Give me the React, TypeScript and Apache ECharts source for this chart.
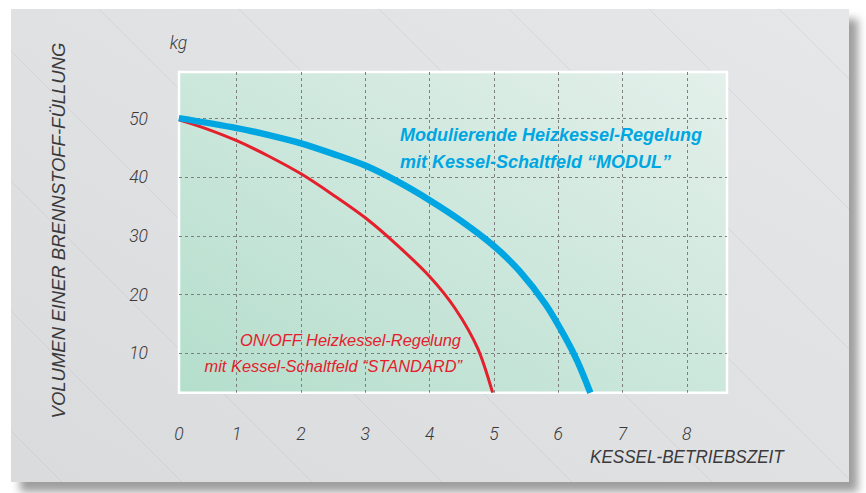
import React, { useEffect, useRef } from "react";
import * as echarts from "echarts";

// ---- data ----
const xTickValues = [0, 1, 2, 3, 4, 5, 6, 7, 8];
const yTickValues = [10, 20, 30, 40, 50];
const redX = [0.1, 0.5, 1.0, 1.5, 2.0, 2.5, 3.0, 3.5, 4.0, 4.4, 4.75, 4.98];
const redY = [49.8, 48.4, 46.25, 43.6, 40.6, 37.0, 33.1, 28.4, 23.1, 17.6, 10.8, 3.28];
const blueX = [0.1, 1.0, 1.5, 2.0, 2.5, 3.0, 3.5, 4.0, 4.5, 5.0, 5.4, 5.8, 6.1, 6.3, 6.5];
const blueY = [50.1, 48.4, 47.2, 45.8, 44.0, 42.0, 39.3, 36.1, 32.5, 28.3, 24.0, 18.4, 12.9, 8.6, 3.28];
const yAxisTitle = "VOLUMEN EINER BRENNSTOFF-FÜLLUNG";
const xAxisTitle = "KESSEL-BETRIEBSZEIT";
const unitLabel = "kg";
const blueLabel = ["Modulierende Heizkessel-Regelung", "mit Kessel-Schaltfeld \u201CMODUL\u201D"];
const redLabel = ["ON/OFF Heizkessel-Regelung", "mit Kessel-Schaltfeld \u201CSTANDARD\u201D"];

const X_MIN = 0.103;
const X_MAX = 8.625;
const Y_MIN = 3.28;
const Y_MAX = 57.96;

const TEXT = "#3a3a3c";
const FONT = "Liberation Sans, Arial, sans-serif";
const LIGHT = "Roboto, Liberation Sans, sans-serif";

function diagLines() {
  const L = 11, T = 9, R = 849, B = 482;
  const out: any[] = [];
  const offs = [-420, -300, -170, -40, 90, 230, 370, 500, 640, 770];
  for (const c of offs) {
    let x1 = T + c, y1 = T;
    if (x1 < L) { y1 = L - c; x1 = L; }
    let x2 = B + c, y2 = B;
    if (x2 > R) { y2 = R - c; x2 = R; }
    if (y1 >= B || x1 >= R) continue;
    out.push({
      type: "line",
      z: -90,
      silent: true,
      shape: { x1, y1, x2, y2 },
      style: { stroke: "rgba(185,186,190,0.3)", lineWidth: 1 },
    });
  }
  return out;
}

const tickFont = {
  color: TEXT,
  fontSize: 17.5,
  fontStyle: "italic",
  fontWeight: 300,
  fontFamily: LIGHT,
};

export default function App() {
  const ref = useRef<HTMLDivElement>(null);
  useEffect(() => {
    if (!ref.current) return;
    const chart = echarts.init(ref.current, undefined, { renderer: "svg" });
    const red = redX.map((x, i) => [x, redY[i]]);
    const blue = blueX.map((x, i) => [x, blueY[i]]);
    const gridLine = { show: true, showMinLine: false, showMaxLine: false, lineStyle: { color: "#7d7f80", type: [3, 3], width: 1 } };
    chart.setOption({
      animation: false,
      backgroundColor: "#ffffff",
      grid: {
        left: 179,
        top: 72,
        right: 139,
        bottom: 100.3,
        show: true,
        borderColor: "#ffffff",
        borderWidth: 2.5,
        backgroundColor: new echarts.graphic.LinearGradient(0, 1, 1, 0, [
          { offset: 0, color: "#b4decc" },
          { offset: 1, color: "#e4f0eb" },
        ]),
      },
      xAxis: {
        type: "value",
        min: X_MIN,
        max: X_MAX,
        minInterval: 1,
        maxInterval: 1,
        axisLine: { show: false },
        axisTick: { show: false },
        splitLine: gridLine,
        axisLabel: {
          margin: 32,
          showMaxLabel: false,
          ...tickFont,
          formatter: (v: number) => {
            const r = Math.round(v);
            return xTickValues.includes(r) && Math.abs(v - r) < 0.2 ? String(r) : "";
          },
        },
      },
      yAxis: {
        type: "value",
        min: Y_MIN,
        max: Y_MAX,
        minInterval: 10,
        maxInterval: 10,
        axisLine: { show: false },
        axisTick: { show: false },
        splitLine: gridLine,
        axisLabel: {
          margin: 31,
          showMinLabel: false,
          showMaxLabel: false,
          ...tickFont,
          formatter: (v: number) => (yTickValues.includes(Math.round(v)) && Math.abs(v - Math.round(v)) < 0.01 ? String(Math.round(v)) : ""),
        },
      },
      series: [
        {
          type: "line",
          data: red,
          smooth: 0.3,
          showSymbol: false,
          lineStyle: { color: "#e5202c", width: 3 },
          z: 3,
        },
        {
          type: "line",
          data: blue,
          smooth: 0.3,
          showSymbol: false,
          lineStyle: { color: "#00a6e2", width: 6.5 },
          z: 4,
        },
      ],
      graphic: [
        {
          type: "rect",
          z: -100,
          silent: true,
          shape: { x: 11, y: 9, width: 838, height: 473 },
          style: {
            fill: new echarts.graphic.LinearGradient(0, 1, 1, 0, [
              { offset: 0, color: "#dadbdd" },
              { offset: 1, color: "#e6e7e9" },
            ]),
            shadowBlur: 8,
            shadowOffsetX: 9,
            shadowOffsetY: 10,
            shadowColor: "rgba(0,0,0,0.38)",
          },
        },
        ...diagLines(),
        {
          type: "text",
          z: 10,
          x: 178.5,
          y: 43,
          style: {
            text: unitLabel,
            fill: TEXT,
            font: `italic 300 17.5px ${LIGHT}`,
            textAlign: "center",
            textVerticalAlign: "middle",
          },
        },
        {
          type: "text",
          z: 10,
          x: 58,
          y: 230.5,
          rotation: Math.PI / 2,
          style: {
            text: yAxisTitle,
            fill: TEXT,
            font: `italic 18.5px ${FONT}`,
            textAlign: "center",
            textVerticalAlign: "middle",
          },
        },
        {
          type: "text",
          z: 10,
          x: 590,
          y: 457,
          scaleX: 0.95,
          style: {
            text: xAxisTitle,
            fill: TEXT,
            font: `italic 18px ${FONT}`,
            textAlign: "left",
            textVerticalAlign: "middle",
          },
        },
        {
          type: "text",
          z: 10,
          x: 400,
          y: 135,
          style: {
            text: blueLabel[0],
            fill: "#00a6e2",
            font: `italic bold 18px ${FONT}`,
            textAlign: "left",
            textVerticalAlign: "middle",
          },
        },
        {
          type: "text",
          z: 10,
          x: 400,
          y: 161.5,
          style: {
            text: blueLabel[1],
            fill: "#00a6e2",
            font: `italic bold 18px ${FONT}`,
            textAlign: "left",
            textVerticalAlign: "middle",
          },
        },
        {
          type: "text",
          z: 10,
          x: 461,
          y: 340,
          style: {
            text: redLabel[0],
            fill: "#e5202c",
            font: `italic 16.4px ${FONT}`,
            textAlign: "right",
            textVerticalAlign: "middle",
          },
        },
        {
          type: "text",
          z: 10,
          x: 462,
          y: 365.5,
          style: {
            text: redLabel[1],
            fill: "#e5202c",
            font: `italic 16.4px ${FONT}`,
            textAlign: "right",
            textVerticalAlign: "middle",
          },
        },
      ],
    });
    return () => chart.dispose();
  }, []);
  return (
    <div
      ref={ref}
      style={{ position: "fixed", left: 0, top: 0, width: 866, height: 493 }}
    />
  );
}
